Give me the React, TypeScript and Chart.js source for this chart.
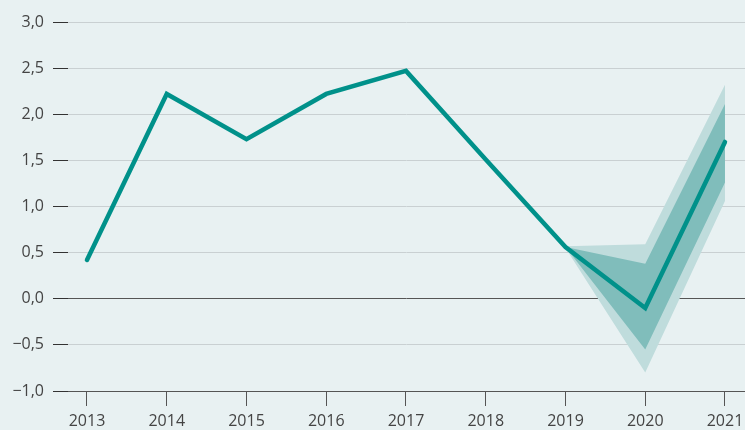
import React, { useEffect, useRef } from "react";
import { Chart, registerables } from "chart.js";

Chart.register(...registerables);

const years = [2013, 2014, 2015, 2016, 2017, 2018, 2019, 2020, 2021];
const mainValues = [0.42, 2.22, 1.73, 2.22, 2.47, 1.51, 0.56, -0.1, 1.7];
const bandYears = [2019, 2020, 2021];
const outerUpper = [0.57, 0.59, 2.32];
const outerLower = [0.55, -0.8, 1.06];
const innerUpper = [0.56, 0.38, 2.11];
const innerLower = [0.56, -0.55, 1.26];
const yTicks = [-1, -0.5, 0, 0.5, 1, 1.5, 2, 2.5, 3];

const BG = "#e8f1f2";
const LINE = "#00918a";
const INNER = "#80bdbb";
const OUTER = "#bfdcdc";

const toPts = (xs: number[], ys: number[]) => xs.map((x, i) => ({ x, y: ys[i] }));

export default function App() {
  const ref = useRef<HTMLCanvasElement>(null);
  useEffect(() => {
    document.body.style.margin = "0";
    document.body.style.background = BG;
    const ctx = ref.current!;
    const font = { family: "'Open Sans', sans-serif", size: 16 };
    const chart = new Chart(ctx, {
      type: "line",
      data: {
        datasets: [
          {
            data: toPts(years, mainValues),
            borderColor: LINE,
            borderWidth: 4.5,
            pointRadius: 0,
            fill: false,
            order: 0,
            borderCapStyle: "round",
            borderJoinStyle: "miter",
          },
          {
            data: toPts(bandYears, innerUpper),
            borderWidth: 0,
            pointRadius: 0,
            backgroundColor: INNER,
            fill: "+1",
            order: 1,
          },
          {
            data: toPts(bandYears, innerLower),
            borderWidth: 0,
            pointRadius: 0,
            fill: false,
            order: 1,
          },
          {
            data: toPts(bandYears, outerUpper),
            borderWidth: 0,
            pointRadius: 0,
            backgroundColor: OUTER,
            fill: "+1",
            order: 2,
          },
          {
            data: toPts(bandYears, outerLower),
            borderWidth: 0,
            pointRadius: 0,
            fill: false,
            order: 2,
          },
        ],
      },
      options: {
        animation: false,
        responsive: false,
        layout: { padding: { top: 22, right: 0, left: 0, bottom: 0 } },
        plugins: { legend: { display: false }, tooltip: { enabled: false } },
        scales: {
          x: {
            type: "linear",
            min: 2012.762,
            max: 2021.251,
            afterBuildTicks: (s: any) => {
              s.ticks = years.map((v) => ({ value: v }));
            },
            afterFit: (s: any) => {
              s.height = 39;
              s.paddingLeft = 0;
              s.paddingRight = 0;
            },
            ticks: {
              callback: (v: any) => String(v),
              color: "#444",
              font,
              padding: 6,
              maxRotation: 0,
              autoSkip: false,
            },
            grid: {
              drawOnChartArea: false,
              drawTicks: true,
              tickLength: 15,
              tickColor: "#555",
              tickWidth: 1,
            },
            border: { display: true, color: "#555", width: 1 },
          },
          y: {
            min: -1,
            max: 3,
            afterBuildTicks: (s: any) => {
              s.ticks = yTicks.map((v) => ({ value: v }));
            },
            afterFit: (s: any) => {
              s.width = 68;
              s.paddingTop = 0;
              s.paddingBottom = 0;
            },
            ticks: {
              callback: (v: any) =>
                Number(v).toFixed(1).replace(".", ",").replace("-", "\u2212"),
              color: "#444",
              font,
              padding: 9,
            },
            grid: {
              color: (c: any) => (c.tick && c.tick.value === 0 ? "#555" : "#c9d0d2"),
              tickColor: "#333",
              tickLength: 15,
              lineWidth: 1,
            },
            border: { display: false },
          },
        },
      },
    });
    return () => chart.destroy();
  }, []);
  return (
    <div style={{ width: 745, height: 430, background: BG }}>
      <canvas ref={ref} width={745} height={430} style={{ display: "block" }} />
    </div>
  );
}
